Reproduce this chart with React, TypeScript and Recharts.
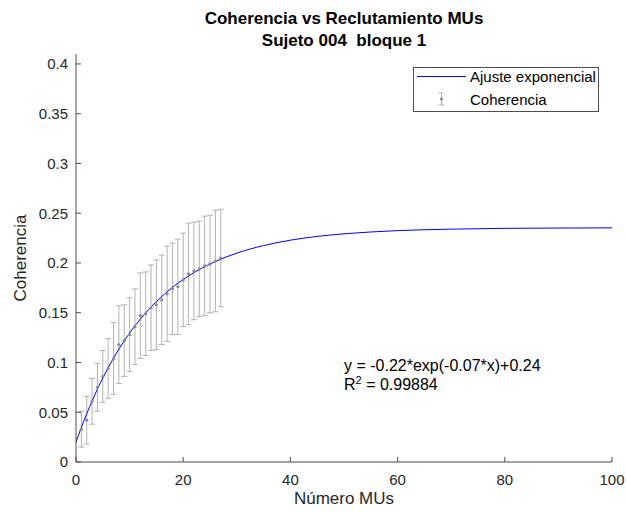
import React from 'react';
import { ComposedChart, Line, Scatter, ErrorBar, XAxis, YAxis, Legend, ReferenceDot } from 'recharts';

// Coherence vs number of recruited MUs (mean ± sd per count)
const muCount = [1, 2, 3, 4, 5, 6, 7, 8, 9, 10, 11, 12, 13, 14, 15, 16, 17, 18, 19, 20, 21, 22, 23, 24, 25, 26, 27];
const coherenceMean = [
  0.033, 0.042, 0.061, 0.075, 0.086, 0.094, 0.104, 0.118, 0.122, 0.128, 0.136, 0.147, 0.149, 0.155,
  0.158, 0.163, 0.169, 0.174, 0.176, 0.183, 0.189, 0.192, 0.194, 0.197, 0.199, 0.202, 0.205,
];
const coherenceSd = [
  0.018, 0.024, 0.023, 0.024, 0.026, 0.03, 0.036, 0.039, 0.036, 0.037, 0.038, 0.043, 0.042, 0.043,
  0.045, 0.045, 0.048, 0.046, 0.048, 0.047, 0.051, 0.049, 0.048, 0.05, 0.049, 0.051, 0.049,
];

// Exponential fit, sampled along the x range
const fitX = [0, 1, 2, 3, 4, 5, 6, 8, 10, 12, 14, 16, 18, 20, 23, 26, 30, 35, 40, 45, 50, 60, 70, 80, 90, 100];
const fitY = [
  0.02, 0.0348, 0.0485, 0.0613, 0.0733, 0.0844, 0.0948, 0.1134, 0.1296, 0.1436, 0.1557, 0.1663, 0.1755,
  0.1834, 0.1934, 0.2015, 0.2099, 0.2175, 0.2229, 0.2267, 0.2293, 0.2325, 0.234, 0.2348, 0.2351, 0.2353,
];

const xTicks = [0, 20, 40, 60, 80, 100];
const yTicks = [0, 0.05, 0.1, 0.15, 0.2, 0.25, 0.3, 0.35, 0.4];

const equationText = 'y = -0.22*exp(-0.07*x)+0.24';
const r2Text = '0.99884';

const FONT = '"Liberation Sans", Arial, Helvetica, sans-serif';
const AXIS = '#4d4d4d';
const TEXT = '#262626';
const BAR = '#b3b3b3';
const FIT = '#0000ff';

const coherenceData = muCount.map((x, i) => ({ x, y: coherenceMean[i], sd: coherenceSd[i] }));
const fitData = fitX.map((x, i) => ({ x, y: fitY[i] }));

const MeanDot = (props: any) => <circle cx={props.cx} cy={props.cy} r={1.6} fill="#8c8c8c" />;

const LegendBox = () => (
  <svg width={186} height={45} style={{ display: 'block' }}>
    <rect x={0.5} y={0.5} width={185} height={44} fill="#fff" stroke={AXIS} />
    <line x1={4} x2={53} y1={9.5} y2={9.5} stroke={FIT} strokeWidth={1} />
    <text x={57} y={9.5} dominantBaseline="central" fontFamily={FONT} fontSize={15} fill="#000">
      Ajuste exponencial
    </text>
    <line x1={28.5} x2={28.5} y1={26} y2={38} stroke={BAR} />
    <line x1={25.5} x2={31.5} y1={26} y2={26} stroke={BAR} />
    <line x1={25.5} x2={31.5} y1={38} y2={38} stroke={BAR} />
    <circle cx={28.5} cy={32} r={1.6} fill="#8c8c8c" />
    <text x={57} y={32} dominantBaseline="central" fontFamily={FONT} fontSize={15} fill="#000">
      Coherencia
    </text>
  </svg>
);

const EquationLabel = ({ viewBox }: any) => {
  const x = viewBox.x + viewBox.width / 2;
  const y = viewBox.y + viewBox.height / 2;
  return (
    <text fontFamily={FONT} fontSize={16} fill="#000">
      <tspan x={x} y={y - 3}>{equationText}</tspan>
      <tspan x={x} y={y + 16}>R</tspan>
      <tspan dy={-6} fontSize={11}>2</tspan>
      <tspan dy={6}>{` = ${r2Text}`}</tspan>
    </text>
  );
};

const YLabel = ({ viewBox }: any) => {
  const x = viewBox.x + 20;
  const y = viewBox.y + viewBox.height / 2;
  return (
    <text x={x} y={y} transform={`rotate(-90, ${x}, ${y})`} textAnchor="middle" dominantBaseline="central"
      fontFamily={FONT} fontSize={17} fill={TEXT}>
      Coherencia
    </text>
  );
};

const XLabel = ({ viewBox }: any) => (
  <text x={viewBox.x + viewBox.width / 2} y={viewBox.y + 42} textAnchor="middle" fontFamily={FONT} fontSize={17} fill={TEXT}>
    Número MUs
  </text>
);

export default function App() {
  const tickStyle = { fontFamily: FONT, fontSize: 15, fill: TEXT };
  return (
    <div style={{ position: 'absolute', left: 0, top: 0, width: 627, height: 513, background: '#fff', fontFamily: FONT }}>
      <div style={{ position: 'absolute', left: 76, top: 8, width: 536, textAlign: 'center', fontWeight: 'bold',
        fontSize: 17, lineHeight: '22px', color: '#000', whiteSpace: 'pre' }}>
        {'Coherencia vs Reclutamiento MUs\nSujeto 004  bloque 1'}
      </div>
      <ComposedChart width={627} height={513} margin={{ top: 54, right: 15, bottom: 0, left: 0 }}>
        <XAxis dataKey="x" type="number" domain={[0, 100]} ticks={xTicks} height={51}
          stroke={AXIS} tickSize={-5} tickMargin={17} tick={tickStyle} label={<XLabel />} />
        <XAxis xAxisId="top" orientation="top" dataKey="x" type="number" domain={[0, 100]} ticks={xTicks}
          height={0} stroke={AXIS} tickSize={-5} tick={false} />
        <YAxis type="number" domain={[0, 0.41]} ticks={yTicks} width={76} stroke={AXIS}
          tickSize={-5} tickMargin={13} tick={tickStyle} label={<YLabel />} />
        <YAxis yAxisId="right" orientation="right" type="number" domain={[0, 0.41]} ticks={yTicks}
          width={0} stroke={AXIS} tickSize={-5} tick={false} />
        <Scatter data={coherenceData} dataKey="y" name="Coherencia" shape={<MeanDot />} isAnimationActive={false}>
          <ErrorBar dataKey="sd" direction="y" width={3} stroke={BAR} strokeWidth={1} isAnimationActive={false} />
        </Scatter>
        <Line data={fitData} dataKey="y" name="Ajuste exponencial" type="monotone" stroke={FIT} strokeWidth={1}
          dot={false} activeDot={false} isAnimationActive={false} />
        <ReferenceDot x={50} y={0.0887} r={1} fill="none" stroke="none" label={<EquationLabel />} />
        <Legend layout="horizontal" verticalAlign="middle" align="center" content={<LegendBox />}
          wrapperStyle={{ left: 413, top: 67, width: 186, height: 45 }} />
      </ComposedChart>
    </div>
  );
}
